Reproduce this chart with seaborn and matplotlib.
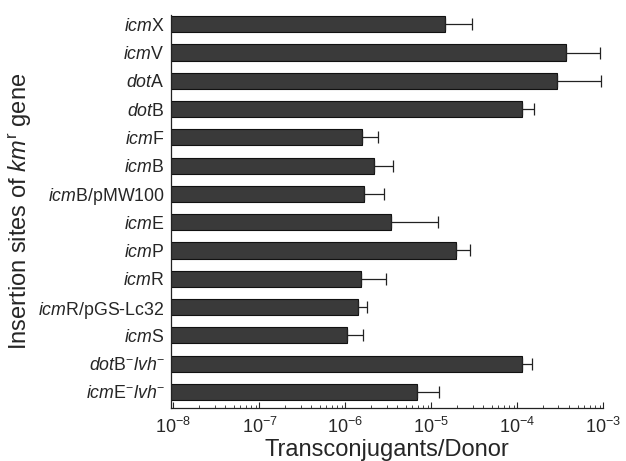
import numpy as np
import pandas as pd
import matplotlib
matplotlib.use("Agg")
import matplotlib.pyplot as plt
import seaborn as sns

# ---- data ----
labels = [r'$\it{icm}$X', r'$\it{icm}$V', r'$\it{dot}$A', r'$\it{dot}$B', r'$\it{icm}$F',
          r'$\it{icm}$B', r'$\it{icm}$B/pMW100', r'$\it{icm}$E', r'$\it{icm}$P',
          r'$\it{icm}$R', r'$\it{icm}$R/pGS-Lc32', r'$\it{icm}$S',
          r'$\it{dot}$B$^{-}$$\it{lvh}$$^{-}$', r'$\it{icm}$E$^{-}$$\it{lvh}$$^{-}$']
means = [1.43e-5, 3.7e-4, 2.9e-4, 1.13e-4, 1.55e-6, 2.14e-6, 1.64e-6,
         3.42e-6, 1.93e-5, 1.5e-6, 1.41e-6, 1.03e-6, 1.13e-4, 6.84e-6]
upper = [2.95e-5, 9.2e-4, 9.3e-4, 1.55e-4, 2.38e-6, 3.57e-6, 2.81e-6,
         1.18e-5, 2.82e-5, 2.94e-6, 1.79e-6, 1.61e-6, 1.46e-4, 1.22e-5]
xticks = [1e-8, 1e-7, 1e-6, 1e-5, 1e-4, 1e-3]

df = pd.DataFrame({"label": labels, "value": means, "upper": upper})

sns.set_style("ticks")
plt.rcParams['font.family'] = ['Liberation Sans', 'DejaVu Sans']
plt.rcParams['mathtext.fontset'] = 'custom'
plt.rcParams['mathtext.rm'] = 'Liberation Sans'
plt.rcParams['mathtext.it'] = 'Liberation Sans:italic'
plt.rcParams['mathtext.bf'] = 'Liberation Sans:bold'

fig = plt.figure(figsize=(6.26, 4.61), dpi=100)
ax = fig.add_axes([0.273, 0.115, 0.691, 0.852])

sns.barplot(data=df, x="value", y="label", orient="h", color="#3a3a3a",
            edgecolor="#111111", linewidth=0.8, width=0.57, errorbar=None,
            saturation=1, ax=ax)
ax.set_xscale("log")

ypos = np.arange(len(df))
ax.errorbar(df["value"], ypos,
            xerr=[np.zeros(len(df)), df["upper"] - df["value"]],
            fmt="none", ecolor="#222222", elinewidth=0.9, capsize=4.5, capthick=0.9)

ax.set_xlim(10 ** -8.03, 1e-3)
ax.set_ylim(13.57, -0.32)
ax.set_xticks(xticks)
ax.tick_params(axis="x", which="major", direction="in", length=4, width=0.8,
               labelsize=13, pad=6.5)
ax.tick_params(axis="x", which="minor", direction="in", length=2, width=0.6)
ax.tick_params(axis="y", length=0, labelsize=12.8, pad=4.5)
sns.despine(ax=ax)
for s in ["left", "bottom"]:
    ax.spines[s].set_linewidth(0.9)
    ax.spines[s].set_color("#222222")

ax.set_xlabel("Transconjugants/Donor", fontsize=17, labelpad=1)
ax.set_ylabel(r"Insertion sites of $\it{km}^{\rm{r}}$ gene", fontsize=17, labelpad=3)

fig.savefig("out.png", dpi=100)
